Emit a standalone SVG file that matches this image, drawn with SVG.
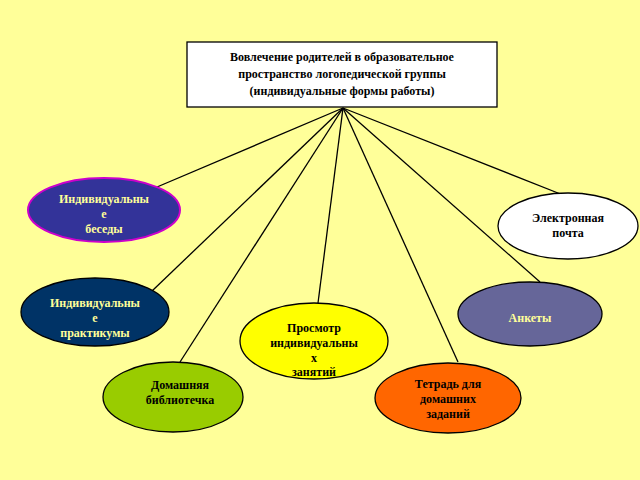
<svg xmlns="http://www.w3.org/2000/svg" width="640" height="480" viewBox="0 0 640 480">
<style>
text{font-family:"Liberation Serif",serif;font-weight:bold;font-size:12px;text-anchor:middle}
.l{stroke:#000;stroke-width:1.3;fill:none}
.e{stroke:#000;stroke-width:1.3}
.y{fill:#ffff99}
</style>
<rect width="640" height="480" fill="#ffff99"/>
<g id="connectors">
<line class="l" x1="343" y1="108" x2="157" y2="187"/>
<line class="l" x1="343" y1="108" x2="152" y2="291"/>
<line class="l" x1="343" y1="108" x2="180" y2="362"/>
<line class="l" x1="343" y1="108" x2="318" y2="303"/>
<line class="l" x1="343" y1="108" x2="458" y2="362"/>
<line class="l" x1="343" y1="108" x2="540" y2="282"/>
<line class="l" x1="343" y1="108" x2="563" y2="195"/>
</g>
<g id="title">
<rect x="187" y="42" width="310" height="65" fill="#fff" stroke="#000" stroke-width="1.3"/>
<text x="342" y="61" font-size="13">Вовлечение родителей в  образовательное</text>
<text x="342" y="78" font-size="13">пространство логопедической группы</text>
<text x="342" y="95" font-size="13">(индивидуальные формы работы)</text>
</g>
<g id="besedy">
<ellipse cx="104" cy="210" rx="76" ry="32" fill="#333399" stroke="#cc00cc" stroke-width="2"/>
<text class="y" x="104" y="203">Индивидуальны</text>
<text class="y" x="104" y="218">е</text>
<text class="y" x="104" y="233">беседы</text>
</g>
<g id="pochta">
<ellipse class="e" cx="568" cy="226" rx="70" ry="33" fill="#fff"/>
<text x="568" y="222">Электронная</text>
<text x="568" y="237">почта</text>
</g>
<g id="praktikumy">
<ellipse class="e" cx="95" cy="312" rx="74" ry="34" fill="#003366"/>
<text class="y" x="95" y="307">Индивидуальны</text>
<text class="y" x="95" y="322">е</text>
<text class="y" x="95" y="337">практикумы</text>
</g>
<g id="prosmotr">
<ellipse class="e" cx="314" cy="341" rx="74" ry="38" fill="#ffff00"/>
<text x="314" y="332">Просмотр</text>
<text x="314" y="347">индивидуальны</text>
<text x="314" y="362">х</text>
<text x="314" y="376">занятий</text>
</g>
<g id="ankety">
<ellipse class="e" cx="530" cy="314" rx="72" ry="32" fill="#666699"/>
<text class="y" x="530" y="322">Анкеты</text>
</g>
<g id="biblioteka">
<ellipse class="e" cx="173" cy="397" rx="70" ry="35" fill="#99cc00"/>
<text x="180" y="389">Домашняя</text>
<text x="180" y="404">библиотечка</text>
</g>
<g id="tetrad">
<ellipse class="e" cx="448" cy="398" rx="73" ry="35" fill="#ff6600"/>
<text x="448" y="388">Тетрадь для</text>
<text x="448" y="403">домашних</text>
<text x="448" y="418">заданий</text>
</g>
</svg>
